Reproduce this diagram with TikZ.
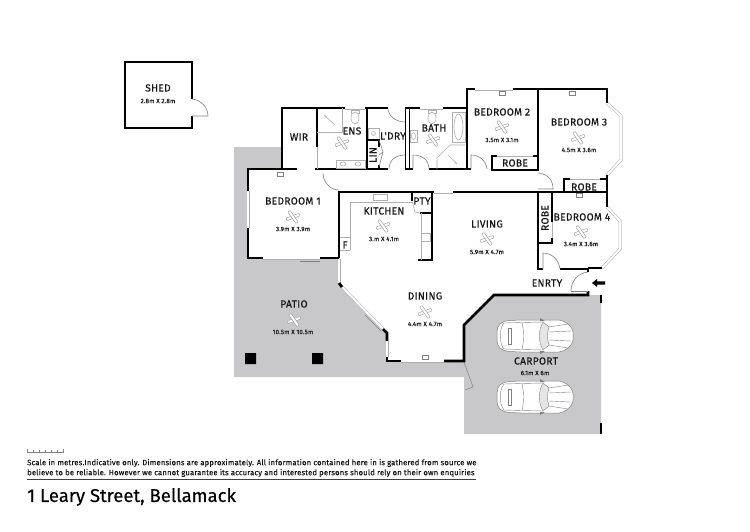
\documentclass[tikz,border=0pt]{standalone}
\usepackage{fontspec}
\setmainfont{Fira Sans}
\newfontfamily\roomfont[LetterSpace=3,FakeBold=0.35]{Fira Sans}
\newfontfamily\dimfont[LetterSpace=3,FakeBold=0.35]{Fira Sans}
\newfontfamily\notefont[LetterSpace=2,FakeBold=0.3]{Fira Sans}
\newfontfamily\titlefont[FakeBold=0.3]{Fira Sans}
\usetikzlibrary{arrows.meta}
\definecolor{pavegrey}{RGB}{200,200,203}
\definecolor{wingrey}{RGB}{175,175,175}
\definecolor{fangrey}{RGB}{150,150,150}
\definecolor{inkdark}{RGB}{22,22,22}
\tikzset{
 thick wall/.style={draw=black,line width=2.8pt,line join=miter,line cap=butt},
 thin wall/.style={draw=black,line width=1.6pt,line cap=butt},
 windowpane/.style={draw=wingrey,line width=0.5pt,double=white,double distance=2pt},
 fixture/.style={draw=wingrey,line width=0.6pt,fill=white},
 doorleaf/.style={draw=gray,line width=0.6pt},
 room/.style={font=\roomfont\fontsize{10.2}{12}\selectfont,text=inkdark,inner sep=0pt},
 dim/.style={font=\dimfont\fontsize{6.2}{7}\selectfont,text=inkdark,inner sep=0pt},
 tagbox/.style={draw=gray,line width=0.4pt,fill=white,minimum width=6pt,minimum height=3.5pt,inner sep=0pt},
 fanarm/.style={draw=fangrey,line width=0.4pt,fill=white,rounded corners=0.5pt},
}
\newcommand\fanat[2]{%
 \begin{scope}[shift={(#1,#2)}]
  \draw[fanarm,rotate=20] (-7,-1.4) rectangle (7,1.4);
  \draw[fanarm,rotate=-55] (-7,-1.4) rectangle (7,1.4);
 \end{scope}}
\newcommand\carat[2]{%
 \begin{scope}[shift={(#1,#2)}]
  \draw[draw=gray,line width=0.5pt,fill=white]
    (-38,-4) .. controls (-38,-11) and (-34,-15) .. (-25,-15.5)
    -- (-14,-16) -- (24,-16) .. controls (31,-15) and (37,-10) .. (38,-4)
    -- (38,4) .. controls (37,10) and (31,15) .. (24,16)
    -- (-14,16) -- (-25,15.5) .. controls (-34,15) and (-38,11) .. (-38,4) -- cycle;
  \draw[gray,line width=0.4pt] (-31,-13) .. controls (-36,-7) and (-36,7) .. (-31,13)
    -- (-13,13.5) .. controls (-11,5) and (-11,-5) .. (-13,-13.5) -- cycle;
  \draw[gray,line width=0.4pt] (-27,-8) rectangle (-24,8);
  \draw[gray,line width=0.4pt] (-13,-13.5) -- (8,-14) (-13,13.5) -- (8,14);
  \draw[gray,line width=0.4pt,fill=gray!20] (8,-14) .. controls (3,-5) and (3,5) .. (8,14)
    -- (14,9) .. controls (12,3) and (12,-3) .. (14,-9) -- cycle;
  \draw[gray,line width=0.4pt] (14,-9) -- (33,-12) (14,9) -- (33,12) (14,-4) -- (36,-5) (14,4) -- (36,5);
  \fill[gray] (5,-18) -- (10,-15) -- (5,-15) -- cycle (5,18) -- (10,15) -- (5,15) -- cycle;
 \end{scope}}
\begin{document}
\begin{tikzpicture}[x=1pt,y=-1pt]
\useasboundingbox[fill=white] (0,0) rectangle (750,531);
% paved areas
\fill[pavegrey] (234,147) -- (282,147) -- (282,169) -- (248,169) -- (248,258) -- (339,258) -- (339,283)
  -- (387,333) -- (387,361) -- (464,361) -- (464,325) -- (494,295) -- (601,295) -- (601,434) -- (464,434) -- (464,377) -- (234,377) -- cycle;
\draw[gray,line width=0.5pt] (464,362) -- (473,387) -- (465,390);
\fill[black] (245,353) rectangle (256,364) (312,353) rectangle (323,364);
% shed
\draw[line width=1.6pt] (192,99) -- (192,62) -- (125,62) -- (125,128) -- (192,128) -- (192,116);
\draw[doorleaf] (192,116) -- (208,116) .. controls (208,107) and (201,100) .. (192,99);
% outer windows
\draw[windowpane] (345,108) -- (365,108);
\draw[windowpane] (420,108) -- (443,108);
\draw[windowpane] (475,89) -- (513,89);
\draw[windowpane] (607,103) -- (621,116) -- (621,160) -- (607,175);
\draw[windowpane] (607,207) -- (620,221) -- (620,249) -- (602,268);
\draw[windowpane] (248,191) -- (248,228);
\draw[windowpane] (263,258) -- (320,258);
\draw[windowpane] (339,259) -- (339,283);
\draw[windowpane] (342,287) -- (383,329);
\draw[windowpane] (387,341) -- (387,357);
\draw[windowpane] (401,361) -- (444,361);
\draw[windowpane] (434,192) -- (453,192);
\draw[gray,line width=0.5pt] (365,315) -- (381,331);
\draw[gray,line width=0.5pt] (300,261.5) -- (320,261.5);
% thick outer walls
\draw[thick wall] (282,169) -- (282,108) -- (345,108);
\draw[thick wall] (365,108) -- (388,108);
\draw[thick wall] (405,108) -- (420,108);
\draw[thick wall] (443,108) -- (467,108) -- (467,89) -- (475,89);
\draw[thick wall] (513,89) -- (607,89) -- (607,103);
\draw[thick wall] (607,175) -- (607,207);
\draw[thick wall] (602,268) -- (588,268);
\draw[thick wall] (297,169) -- (248,169) -- (248,191);
\draw[thick wall] (248,228) -- (248,258) -- (263,258);
\draw[thick wall] (320,258) -- (339,258);
\draw[thick wall] (339,283) -- (342,287);
\draw[thick wall] (383,329) -- (387,333) -- (387,341);
\draw[thick wall] (387,357) -- (387,361) -- (401,361);
\draw[thick wall] (444,361) -- (464,361) -- (464,325) -- (494,295) -- (588,295) -- (588,291);
% thin interior walls
\draw[thin wall] (317,108) -- (317,147);
\draw[thin wall] (315,169) -- (388,169);
\draw[thin wall] (367,108) -- (367,169);
\draw[thin wall,line width=1pt] (405,108) -- (405,169);
\draw[thin wall,line width=1pt] (409,108) -- (409,169);
\draw[thin wall] (405,169) -- (413,169);
\draw[thin wall] (429,169) -- (467,169) -- (467,108);
\draw[thin wall] (471,169) -- (467,169);
\draw[thin wall] (538,89) -- (538,170) -- (492,170) -- (492,156) -- (497,156);
\draw[thin wall] (533,156) -- (538,156);
\draw[thin wall] (339,258) -- (339,192) -- (434,192);
\draw[thin wall] (453,192) -- (606,192);
\draw[thin wall] (564,192) -- (564,179) -- (570,179);
\draw[thin wall] (600,179) -- (606,179);
\draw[thin wall] (412,192) -- (412,201);
\draw[thin wall] (432,192) -- (432,260) -- (418,260);
\draw[thin wall] (420,213) -- (432,213);
\draw[thin wall] (538,192) -- (538,269) -- (543,269);
\draw[thin wall] (560,269) -- (588,269);
\draw[thin wall] (538,243) -- (552,243) -- (552,238);
\draw[thin wall] (552,192) -- (552,222);
\draw[thin wall] (601,295) -- (601,303);
\draw[thin wall] (601,423) -- (601,434);
% interior grey fittings
\draw[draw=wingrey,line width=1pt] (552,222) -- (552,238);
\draw[draw=wingrey,line width=1pt] (497,156) -- (533,156);
\draw[draw=wingrey,line width=1pt] (570,179) -- (600,179);
\draw[fixture,fill=none] (350,250) -- (350,202) -- (412,202);
\draw[fixture,fill=none] (340,237) -- (350,237);
\draw[fixture,fill=none] (340,250) -- (350,250);
\draw[fixture,fill=none] (421,213) -- (421,260);
\draw[fixture] (421,233) rectangle (430,241);
\draw[fixture] (373,194) rectangle (387,200);
\draw[fixture,fill=none] (412,201) -- (415,212) -- (420,213);
\draw[fixture] (317,147) -- (317,169);
\draw[fixture,fill=none] (317,132) -- (342,132) -- (342,108);
\draw[fixture,fill=none,-{Stealth[length=3pt]}] (335,125) -- (324,115);
\draw[fixture] (336,160) rectangle (365,168);
\draw[fixture] (343,164) ellipse[x radius=3,y radius=2];
\draw[fixture] (358,164) ellipse[x radius=3,y radius=2];
\draw[fixture] (351,110) rectangle (359,113);
\draw[fixture] (355,118) ellipse[x radius=4,y radius=6];
\draw[fixture] (428,110) rectangle (436,113);
\draw[fixture] (432,118) ellipse[x radius=4,y radius=6];
\draw[fixture] (368,128) rectangle (379,139);
\draw[fixture] (373.5,133.5) circle[radius=2];
\draw[fixture] (410,130) rectangle (417,142);
\draw[fixture] (413.5,136) ellipse[x radius=2,y radius=3.5];
\draw[fixture] (452,112) rectangle (465,142);
\draw[fixture] (458.5,127) ellipse[x radius=4.5,y radius=13];
\draw[fixture,fill=none] (437,169) -- (437,158) -- (450,145) -- (465,145);
\draw[fixture,fill=none,-{Stealth[length=3pt]}] (448,155) -- (457,164);
% LIN
\draw[thin wall] (367,140) -- (379,140) -- (379,147);
\draw[thin wall] (379,165) -- (379,169);
\draw[doorleaf] (379,140) -- (383,152) -- (379,167);
\draw[doorleaf] (379,155) -- (383,152);
% doors
\draw[doorleaf] (388,108) .. controls (388,116) and (396,122) .. (405,122);
\draw[doorleaf] (389,169) .. controls (389,160) and (396,155) .. (405,155);
\draw[doorleaf] (429,169) .. controls (429,160) and (422,155) .. (413,155) -- (413,169);
\draw[doorleaf] (323,173) .. controls (323,182) and (330,190) .. (339,190);
\draw[doorleaf] (471,169) -- (471,155) .. controls (480,155) and (486,161) .. (487,169);
\draw[doorleaf] (538,173) .. controls (548,174) and (553,180) .. (553,189) -- (538,189);
\draw[doorleaf] (543,269) -- (543,253) .. controls (552,253) and (559,260) .. (560,269);
\draw[doorleaf] (571,291) -- (588,291);
\draw[doorleaf] (571,291) .. controls (571,281) and (578,273) .. (588,272);
\draw[thin wall] (588,269) -- (588,272);
% window tags
\node[tagbox] (tagA) at (280,174) {};
\node[tagbox] (tagB) at (502,93) {};
\node[tagbox] (tagC) at (572,93) {};
\node[tagbox] (tagD) at (579,195) {};
\node[tagbox] (tagE) at (425,357) {};
% fans
\fanat{342}{143}
\fanat{433}{140}
\fanat{502}{127}
\fanat{578}{138}
\fanat{581}{232}
\fanat{487}{239}
\fanat{383}{226}
\fanat{293}{217}
\fanat{425}{312}
\fanat{294}{320}
% cars
\carat{535}{336}
\carat{535}{397}
% entry arrow
\fill[black] (592,283) -- (597,279) -- (597,281.3) -- (605,281.3) -- (605,284.7) -- (597,284.7) -- (597,287) -- cycle;
% labels
\node[room] (shedL) at (158,88) {SHED};
\node[dim] (shedD) at (158,101) {2.8m X 2.8m};
\node[room] (wirL) at (299,137) {WIR};
\node[room] (ensL) at (352,131) {ENS};
\node[room] (ldryL) at (393,136) {L'DRY};
\node[room,rotate=90] (linL) at (373,155) {LIN};
\node[room] (bathL) at (434,128) {BATH};
\node[room] (bed2L) at (502,112) {BEDROOM 2};
\node[dim] (bed2D) at (502,140) {3.5m X 3.1m};
\node[room] (robe2L) at (515,163) {ROBE};
\node[room] (bed3L) at (579,122) {BEDROOM 3};
\node[dim] (bed3D) at (579,150) {4.5m X 3.6m};
\node[room] (robe3L) at (584,187) {ROBE};
\node[room,rotate=90] (robe4L) at (545,218) {ROBE};
\node[room] (bed4L) at (582,217) {BEDROOM 4};
\node[dim] (bed4D) at (581,244) {3.4m X 3.6m};
\node[room] (entryL) at (547,283) {ENRTY};
\node[room] (livL) at (487,224) {LIVING};
\node[dim] (livD) at (487,252) {5.9m X 4.7m};
\node[room] (kitL) at (384,211) {KITCHEN};
\node[dim] (kitD) at (384,239) {3.m X 4.1m};
\node[room] (ptyL) at (422,201) {PTY};
\node[room] (fL) at (345,245) {F};
\node[room] (bed1L) at (293,201) {BEDROOM 1};
\node[dim] (bed1D) at (293,229) {3.9m X 3.9m};
\node[room] (dinL) at (425,296) {DINING};
\node[dim] (dinD) at (425,324) {4.4m X 4.7m};
\node[room] (patL) at (294,304) {PATIO};
\node[dim] (patD) at (293,332) {10.5m X 10.5m};
\node[room] (carL) at (536,361) {CARPORT};
\node[dim] (carD) at (535,373) {6.1m X 6m};
% footer
\draw[gray,line width=0.5pt] (27,449) -- (27,452) -- (63,452) -- (63,449);
\foreach \tx in {33,39,45,51,57} \draw[gray,line width=0.4pt] (\tx,450) -- (\tx,452);
\node[anchor=west,inner sep=0pt,font=\notefont\fontsize{7.7}{9}\selectfont,text=inkdark] (noteA) at (27,463) {Scale in metres.Indicative only. Dimensions are approximately. All information contained here in is gathered from source we};
\node[anchor=west,inner sep=0pt,font=\notefont\fontsize{7.7}{9}\selectfont,text=inkdark] (noteB) at (27,473) {believe to be reliable. However we cannot guarantee its accuracy and interested persons should rely on their own enquiries};
\draw[draw=black!75,line width=1pt] (27,479.5) -- (476,479.5);
\node[anchor=west,inner sep=0pt,font=\titlefont\fontsize{18.5}{20}\selectfont,text=black] (title) at (27,497) {1 Leary Street, Bellamack};
\end{tikzpicture}
\end{document}
